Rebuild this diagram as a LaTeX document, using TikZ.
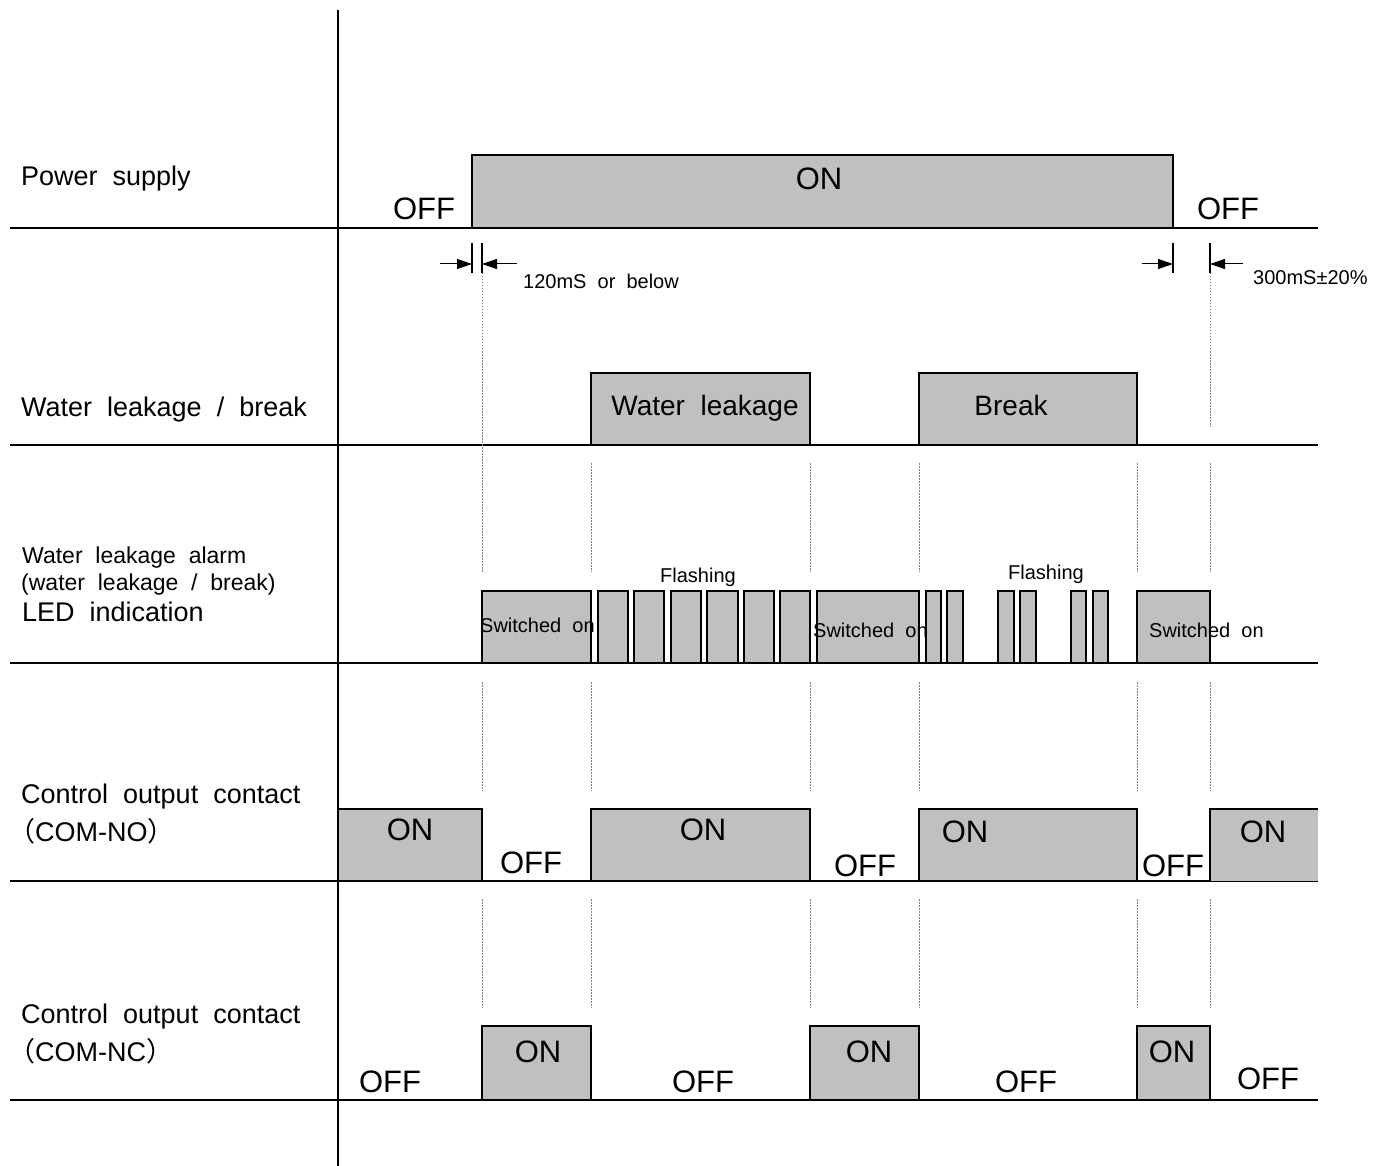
\documentclass[tikz,border=0pt]{standalone}
\usepackage{fontspec}
\setmainfont{Liberation Sans}[WordSpace=2]
\newfontfamily\cjk{Noto Sans CJK JP}
\usetikzlibrary{arrows.meta}
\definecolor{boxgray}{HTML}{C0C0C0}
\tikzset{
  sig/.style={draw=black, line width=2pt, fill=boxgray},
  guide/.style={draw=gray, line width=1pt, dash pattern=on 1.5pt off 1.5pt},
  lvl/.style={inner sep=0pt, font=\fontsize{31}{31}\selectfont},
  lbl/.style={anchor=base west, inner sep=0pt, font=\fontsize{27}{27}\selectfont},
  lbls/.style={anchor=base west, inner sep=0pt, font=\fontsize{23}{23}\selectfont},
  note/.style={anchor=base west, inner sep=0pt, font=\fontsize{20}{20}\selectfont},
  dim/.style={-{Triangle[length=15pt,width=10pt]}, line width=1pt}
}
\begin{document}
\begin{tikzpicture}[x=1pt, y=-1pt]
  \useasboundingbox (0,0) rectangle (1390,1166);

  % time axis and row lines
  \draw[line width=1.5pt] (338,10) -- (338,1166);
  \foreach \y in {228,445,663,881,1100}
    \draw[line width=2pt] (10,\y) -- (1318,\y);

  % row labels
  \node[lbl] (pwr) at (21,186) {Power supply};
  \node[lbl] (leak) at (21,416) {Water leakage / break};
  \node[lbls] (led1) at (22,563) {Water leakage alarm};
  \node[lbls] (led2) at (21,590) {(water leakage / break)};
  \node[lbl] (led3) at (22,621) {LED indication};
  \node[lbl] (no1) at (21,803) {Control output contact};
  \node[lbl] (no2) at (8,841) {{\cjk （}COM-NO{\cjk ）}};
  \node[lbl] (nc1) at (21,1023) {Control output contact};
  \node[lbl] (nc2) at (8,1061) {{\cjk （}COM-NC{\cjk ）}};

  % power supply
  \draw[sig] (472,155) rectangle (1173,228);
  \node[lvl] (pwron) at (819,179) {ON};
  \node[lvl] (pwroff1) at (424,209) {OFF};
  \node[lvl] (pwroff2) at (1228,209) {OFF};

  % delay marks
  \foreach \x in {472,482,1173,1210}
    \draw[line width=1.5pt] (\x,243) -- (\x,273);
  \coordinate (d1a) at (440,264);  \coordinate (d1b) at (472,264);
  \coordinate (d2a) at (517,264);  \coordinate (d2b) at (482,264);
  \coordinate (d3a) at (1142,264); \coordinate (d3b) at (1173,264);
  \coordinate (d4a) at (1243,264); \coordinate (d4b) at (1210,264);
  \draw[dim] (d1a) -- (d1b);
  \draw[dim] (d2a) -- (d2b);
  \draw[dim] (d3a) -- (d3b);
  \draw[dim] (d4a) -- (d4b);
  \node[note] (dly1) at (523,289) {120mS or below};
  \node[note] (dly2) at (1253,285) {300mS±20\%};

  % guide lines
  \draw[guide] (482,273) -- (482,572);
  \draw[guide] (1210,273) -- (1210,427);
  \foreach \x in {591,810,919,1137,1210}
    \draw[guide] (\x,463) -- (\x,572);
  \foreach \x in {482,591,810,919,1137,1210} {
    \draw[guide] (\x,682) -- (\x,791);
    \draw[guide] (\x,899) -- (\x,1008);
  }

  % water leakage / break
  \draw[sig] (591,373) rectangle (810,445);
  \draw[sig] (919,373) rectangle (1137,445);
  \node[anchor=base, inner sep=0pt, font=\fontsize{28}{28}\selectfont] (wl) at (705,415) {Water leakage};
  \node[anchor=base, inner sep=0pt, font=\fontsize{28}{28}\selectfont] (brk) at (1011,415) {Break};

  % LED indication
  \draw[sig] (482,591) rectangle (591,663);
  \draw[sig] (817,591) rectangle (919,663);
  \draw[sig] (1137,591) rectangle (1210,663);
  \foreach \a/\b in {598/628,634/664,671/701,707/738,744/774,780/810,
                     926/941,947/963,998/1014,1020/1036,1071/1086,1093/1108}
    \draw[sig] (\a,591) rectangle (\b,663);
  \node[note] (sw1) at (480,632) {Switched on};
  \node[note] (sw2) at (813,637) {Switched on};
  \node[note] (sw3) at (1149,637) {Switched on};
  \node[note] (fl1) at (660,582) {Flashing};
  \node[note] (fl2) at (1008,579) {Flashing};

  % COM-NO
  \draw[sig] (338,809) rectangle (482,881);
  \draw[sig] (591,809) rectangle (810,881);
  \draw[sig] (919,809) rectangle (1137,881);
  \fill[boxgray] (1210,809) rectangle (1318,881);
  \draw[line width=2pt] (1210,881) -- (1210,809) -- (1318,809);
  \node[lvl] (noon1) at (410,830) {ON};
  \node[lvl] (noon2) at (703,830) {ON};
  \node[lvl] (noon3) at (965,832) {ON};
  \node[lvl] (noon4) at (1263,832) {ON};
  \node[lvl] (nooff1) at (531,863) {OFF};
  \node[lvl] (nooff2) at (865,866) {OFF};
  \node[lvl] (nooff3) at (1173,866) {OFF};

  % COM-NC
  \draw[sig] (482,1026) rectangle (591,1100);
  \draw[sig] (810,1026) rectangle (919,1100);
  \draw[sig] (1137,1026) rectangle (1210,1100);
  \node[lvl] (ncon1) at (538,1052) {ON};
  \node[lvl] (ncon2) at (869,1052) {ON};
  \node[lvl] (ncon3) at (1172,1052) {ON};
  \node[lvl] (ncoff1) at (390,1082) {OFF};
  \node[lvl] (ncoff2) at (703,1082) {OFF};
  \node[lvl] (ncoff3) at (1026,1082) {OFF};
  \node[lvl] (ncoff4) at (1268,1079) {OFF};
\end{tikzpicture}
\end{document}
